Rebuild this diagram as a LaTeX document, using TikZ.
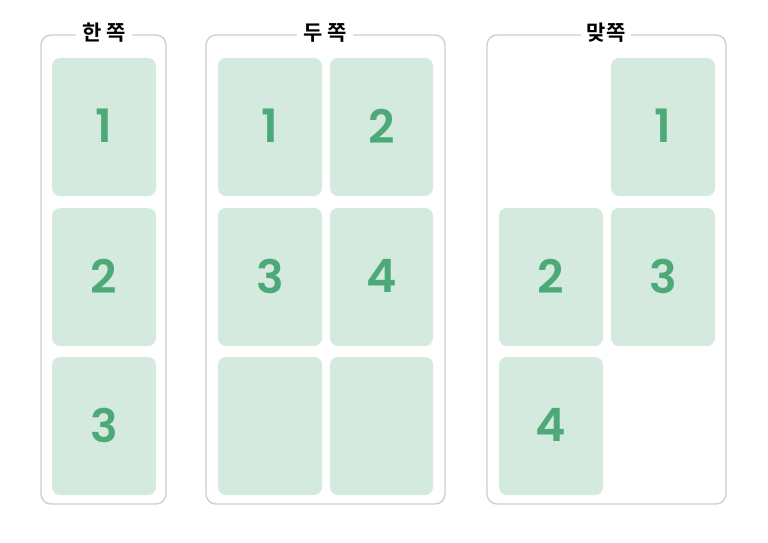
\documentclass[tikz,border=0pt]{standalone}
\usepackage{fontspec}
\newfontfamily\krfont{Noto Sans CJK KR}[UprightFont=* Bold]
\newfontfamily\numfont{Poppins}[UprightFont=* SemiBold]
\definecolor{cardfill}{HTML}{D4EADF}
\definecolor{digit}{HTML}{4DAA78}
\definecolor{framec}{HTML}{CFCFCF}
\tikzset{
  frame/.style={draw=framec, line width=1.4pt, rounded corners=10pt},
  card/.style={fill=cardfill, rounded corners=8pt},
  num/.style={text=digit, font=\numfont\fontsize{46}{46}\selectfont, inner sep=0pt},
  ttl/.style={fill=white, font=\krfont\fontsize{21}{21}\selectfont, inner xsep=6pt, inner ysep=2pt},
}
\begin{document}
\begin{tikzpicture}[x=1pt,y=-1pt]
\useasboundingbox[fill=white] (0,0) rectangle (768,543);
% frames
\draw[frame] (41,35) rectangle (166,504);
\draw[frame] (206,35) rectangle (445,504);
\draw[frame] (487,35) rectangle (726,504);
% titles
\node[ttl] (t1) at (104,33) {한 쪽};
\node[ttl] (t2) at (325,33) {두 쪽};
\node[ttl] (t3) at (606,33) {맞쪽};
% frame 1 cards
\fill[card] (52,58) rectangle (156,196);
\fill[card] (52,208) rectangle (156,346);
\fill[card] (52,357) rectangle (156,495);
\node[num] (a1) at (104,126) {1};
\node[num] (a2) at (104,276) {2};
\node[num] (a3) at (104,425) {3};
% frame 2 cards
\fill[card] (218,58) rectangle (322,196);
\fill[card] (330,58) rectangle (433,196);
\fill[card] (218,208) rectangle (322,346);
\fill[card] (330,208) rectangle (433,346);
\fill[card] (218,357) rectangle (322,495);
\fill[card] (330,357) rectangle (433,495);
\node[num] (b1) at (270,126) {1};
\node[num] (b2) at (381.5,126) {2};
\node[num] (b3) at (270,276) {3};
\node[num] (b4) at (381.5,276) {4};
% frame 3 cards
\fill[card] (611,58) rectangle (715,196);
\fill[card] (499,208) rectangle (603,346);
\fill[card] (611,208) rectangle (715,346);
\fill[card] (499,357) rectangle (603,495);
\node[num] (c1) at (663,126) {1};
\node[num] (c2) at (551,276) {2};
\node[num] (c3) at (663,276) {3};
\node[num] (c4) at (551,425) {4};
\end{tikzpicture}
\end{document}
